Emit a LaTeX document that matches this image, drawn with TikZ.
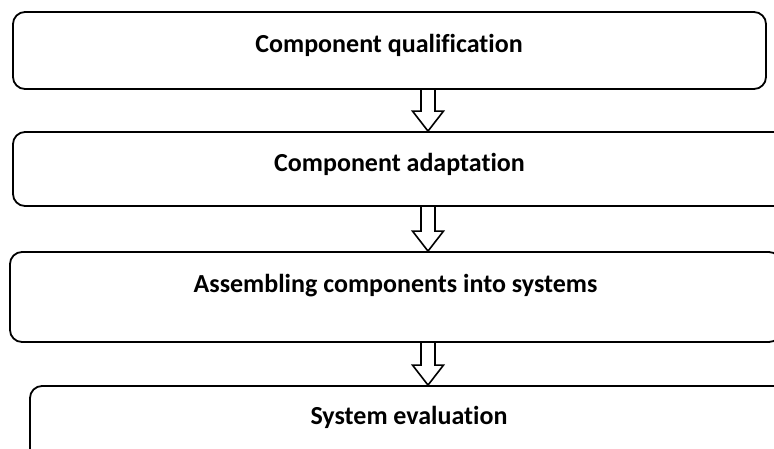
\documentclass[tikz,border=0pt]{standalone}
\usepackage{fontspec}
\setmainfont{Carlito}[Ligatures=NoCommon]
\usetikzlibrary{calc}
\begin{document}
\begin{tikzpicture}[x=1pt,y=-1pt,
  stage/.style={draw=black, line width=1.8pt, rounded corners=12pt, inner sep=0pt},
  caption/.style={font=\fontsize{26}{30}\selectfont\bfseries, anchor=base, inner sep=0pt},
  hollow/.style={draw=black, line width=1.6pt, line join=miter}]
\useasboundingbox (0,0) rectangle (774,448);
\clip (0,0) rectangle (774,448);

% process stages
\node[stage, minimum width=753pt, minimum height=77pt] (b1) at (389.5,50.5) {};
\node[stage, minimum width=773pt, minimum height=74pt] (b2) at (399.5,169) {};
\node[stage, minimum width=771pt, minimum height=90pt] (b3) at (395.5,297) {};
\node[stage, minimum width=778pt, minimum height=84pt] (b4) at (419,428) {};

\node[caption] (t1) at (389,52) {Component qualification};
\node[caption] (t2) at (399.5,171) {Component adaptation};
\node[caption] (t3) at (395.5,292) {Assembling components into systems};
\node[caption] (t4) at (409,424) {System evaluation};

% end points of the hollow arrows between stages
\coordinate (s1) at (428,0 |- b1.south);
\coordinate (e1) at (428,0 |- b2.north);
\coordinate (s2) at (428,0 |- b2.south);
\coordinate (e2) at (428,0 |- b3.north);
\coordinate (s3) at (428,0 |- b3.south);
\coordinate (e3) at (428,0 |- b4.north);

\foreach \s/\e in {s1/e1, s2/e2, s3/e3}{
  \draw[hollow] let \p1=(\s), \p2=(\e) in
    (\x1-7pt,\y1) -- (\x1-7pt,\y2+20pt) -- (\x1-15.5pt,\y2+20pt) -- (\x2,\y2)
    -- (\x1+15.5pt,\y2+20pt) -- (\x1+7pt,\y2+20pt) -- (\x1+7pt,\y1);
}
\end{tikzpicture}
\end{document}
